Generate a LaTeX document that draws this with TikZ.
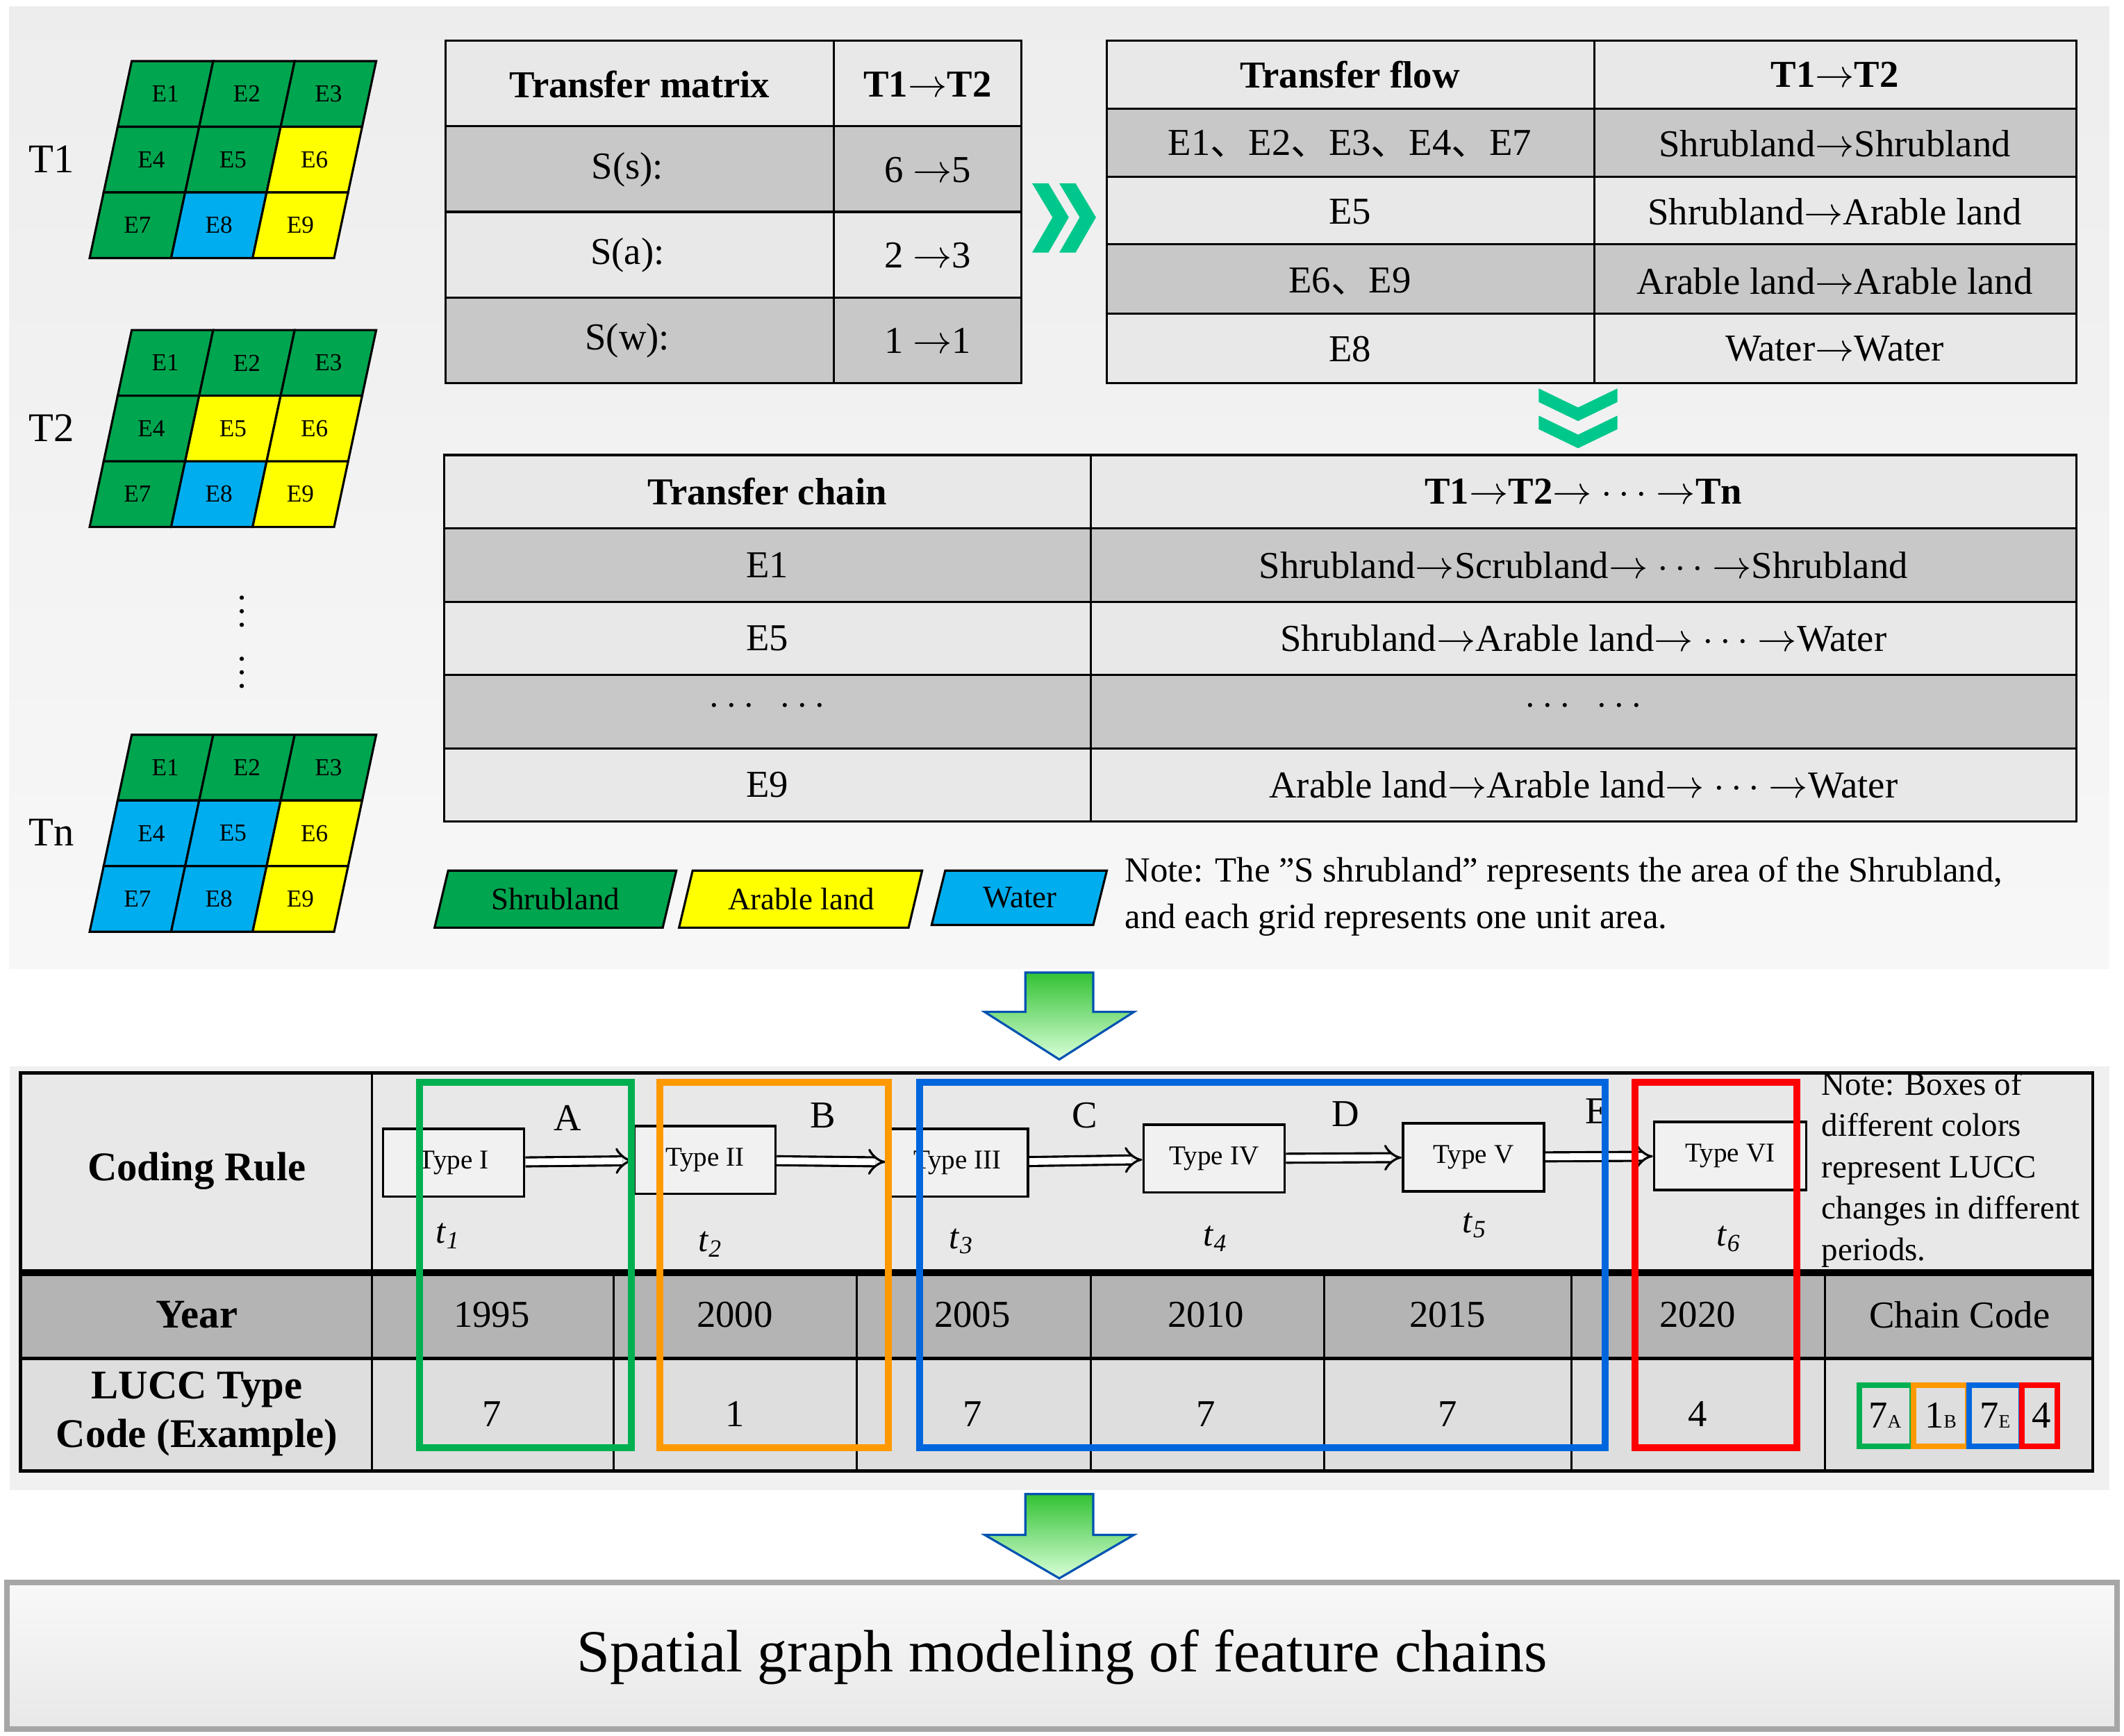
\documentclass[tikz,border=0pt]{standalone}
\usepackage{fontspec}
\setmainfont{Liberation Serif}[Ligatures=ResetAll]
\newfontfamily\cjk{Noto Sans CJK SC}
\usetikzlibrary{arrows.meta,shapes.geometric}
\newcommand{\dn}{{\cjk 、}}
\newcommand{\ra}{\ensuremath{\rightarrow}}
\definecolor{gG}{HTML}{00A54F}
\definecolor{gY}{HTML}{FFFF00}
\definecolor{gB}{HTML}{00AEEF}
\definecolor{rowD}{HTML}{C8C8C8}
\definecolor{rowL}{HTML}{E8E8E8}
\definecolor{yrD}{HTML}{B4B4B4}
\definecolor{bGreen}{HTML}{00B050}
\definecolor{bOrange}{HTML}{FF9900}
\definecolor{bBlue}{HTML}{0066DD}
\definecolor{bRed}{HTML}{FF0000}
\definecolor{chev}{HTML}{00C88C}
\newcommand{\gcell}[6]{%
 \pgfmathsetmacro{\ya}{#2+#3*48.33}\pgfmathsetmacro{\yb}{#2+(#3+1)*48.33}%
 \pgfmathsetmacro{\xa}{#1+31-#3*10.33+#4*60}\pgfmathsetmacro{\xb}{#1+31-(#3+1)*10.33+#4*60}%
 \filldraw[fill=#5,draw=black,line width=0.8pt] (\xa,\ya) -- ++(60,0) -- (\xb+60,\yb) -- (\xb,\yb) -- cycle;
 \node[font=\fontsize{9}{10}\selectfont] at ({(\xa+\xb)/2+30},{(\ya+\yb)/2}) {#6};}
\tikzset{tc/.style={font=\fontsize{14}{16}\selectfont,inner sep=0pt},
 th/.style={font=\fontsize{14}{16}\selectfont\bfseries,inner sep=0pt},
 bt/.style={font=\fontsize{14}{16}\selectfont,inner sep=0pt},
 typebox/.style={draw=black,line width=0.9pt,fill=rowL!60,minimum width=52pt,minimum height=25pt,inner sep=0pt,font=\fontsize{10}{11}\selectfont},
 dar/.style={double=white,double distance=2.5pt,line width=0.8pt,-{Implies[length=5pt]}},
 cbox/.style={line width=2.6pt},
 bigarr/.style={draw=bBlue!80!black,line width=0.8pt,top color=green!70!black!80,bottom color=green!15!white}}
\begin{document}
\begin{tikzpicture}[x=0.5pt,y=-0.5pt]
\useasboundingbox (0,0) rectangle (1564,1278);
\fill[white] (0,0) rectangle (1564,1278);
% top panel
\shade[top color=gray!14,bottom color=gray!6] (7,5) rectangle (1553,713);
% grids
\foreach \y/\cols/\lab in {45/{gG,gG,gG,gG,gG,gY,gG,gB,gY}/T1,243/{gG,gG,gG,gG,gY,gY,gG,gB,gY}/T2,541/{gG,gG,gG,gB,gB,gY,gB,gB,gY}/Tn}{
 \foreach \c [count=\i from 0] in \cols {
  \pgfmathtruncatemacro{\r}{int(\i/3)}\pgfmathtruncatemacro{\cc}{mod(\i,3)}\pgfmathtruncatemacro{\e}{\i+1}
  \gcell{66}{\y}{\r}{\cc}{\c}{E\e}}
 \node[font=\fontsize{15}{16}\selectfont] at (38,\y+72) {\lab};}
\foreach \y in {440,450,460,485,495,505} \fill (178,\y) circle (1.6);
% table 1
\fill[rowL] (328,30) rectangle (752,93);
\fill[rowD] (328,93) rectangle (752,156);
\fill[rowL] (328,156) rectangle (752,219);
\fill[rowD] (328,219) rectangle (752,282);
\draw[line width=0.8pt] (328,30) rectangle (752,282);
\foreach \y in {93,156,219} \draw[line width=0.8pt] (328,\y) -- (752,\y);
\draw[line width=0.8pt] (614,30) -- (614,282);
\node[th] (m1) at (471,62) {Transfer matrix};
\node[th] (m2) at (683,62) {T1\ra T2};
\node[tc] (m3) at (462,125) {S(s):};
\node[tc] (m4) at (683,125) {6 \ra 5};
\node[tc] (m5) at (462,188) {S(a):};
\node[tc] (m6) at (683,188) {2 \ra 3};
\node[tc] (m7) at (462,251) {S(w):};
\node[tc] (m8) at (683,251) {1 \ra 1};
% chevrons right
\fill[chev] (760,135) -- (772,135) -- (787,160) -- (772,186) -- (760,186) -- (775,160) -- cycle;
\fill[chev] (780,135) -- (792,135) -- (807,160) -- (792,186) -- (780,186) -- (795,160) -- cycle;
% table 2
\fill[rowL] (815,30) rectangle (1529,80);
\fill[rowD] (815,80) rectangle (1529,130);
\fill[rowL] (815,130) rectangle (1529,180);
\fill[rowD] (815,180) rectangle (1529,231);
\fill[rowL] (815,231) rectangle (1529,282);
\draw[line width=0.8pt] (815,30) rectangle (1529,282);
\foreach \y in {80,130,180,231} \draw[line width=0.8pt] (815,\y) -- (1529,\y);
\draw[line width=0.8pt] (1174,30) -- (1174,282);
\node[th] (f1) at (994,55) {Transfer flow};
\node[th] (f2) at (1351,55) {T1\ra T2};
\node[tc] (f3) at (994,106) {E1\dn E2\dn E3\dn E4\dn E7};
\node[tc] (f4) at (1351,106) {Shrubland\ra Shrubland};
\node[tc] (f5) at (994,156) {E5};
\node[tc] (f6) at (1351,156) {Shrubland\ra Arable land};
\node[tc] (f7) at (994,207) {E6\dn E9};
\node[tc] (f8) at (1351,207) {Arable land\ra Arable land};
\node[tc] (f9) at (994,257) {E8};
\node[tc] (f10) at (1351,257) {Water\ra Water};
% chevrons down
\fill[chev] (1133,286) -- (1133,296) -- (1162,310) -- (1191,296) -- (1191,286) -- (1162,300) -- cycle;
\fill[chev] (1133,306) -- (1133,316) -- (1162,330) -- (1191,316) -- (1191,306) -- (1162,320) -- cycle;
% table 3
\fill[rowL] (327,335) rectangle (1529,389);
\fill[rowD] (327,389) rectangle (1529,443);
\fill[rowL] (327,443) rectangle (1529,497);
\fill[rowD] (327,497) rectangle (1529,551);
\fill[rowL] (327,551) rectangle (1529,605);
\draw[line width=0.8pt] (327,335) rectangle (1529,605);
\foreach \y in {389,443,497,551} \draw[line width=0.8pt] (327,\y) -- (1529,\y);
\draw[line width=0.8pt] (803,335) -- (803,605);
\node[th] (c1) at (565,362) {Transfer chain};
\node[th] (c2) at (1166,362) {T1\ra T2\ra\ $\cdots$ \ra Tn};
\node[tc] (c3) at (565,416) {E1};
\node[tc] (c4) at (1166,416) {Shrubland\ra Scrubland\ra\ $\cdots$ \ra Shrubland};
\node[tc] (c5) at (565,470) {E5};
\node[tc] (c6) at (1166,470) {Shrubland\ra Arable land\ra\ $\cdots$ \ra Water};
\node[tc] (c7) at (565,520) {$\cdots\ \ \cdots$};
\node[tc] (c8) at (1166,520) {$\cdots\ \ \cdots$};
\node[tc] (c9) at (565,578) {E9};
\node[tc] (c10) at (1166,578) {Arable land\ra Arable land\ra\ $\cdots$ \ra Water};
% legend
\filldraw[fill=gG,line width=0.8pt] (330,641) -- (498,641) -- (488,683) -- (320,683) -- cycle;
\node[font=\fontsize{11.5}{12}\selectfont] (l1) at (409,662) {Shrubland};
\filldraw[fill=gY,line width=0.8pt] (510,641) -- (679,641) -- (669,683) -- (500,683) -- cycle;
\node[font=\fontsize{11.5}{12}\selectfont] (l2) at (590,662) {Arable land};
\filldraw[fill=gB,line width=0.8pt] (696,641) -- (815,641) -- (805,681) -- (686,681) -- cycle;
\node[font=\fontsize{11.5}{12}\selectfont] (l3) at (751,661) {Water};
\node[anchor=west,align=left,font=\fontsize{13}{17}\selectfont,inner sep=0pt] (note1) at (828,660) {Note: The "S shrubland" represents the area of the Shrubland,\\and each grid represents one unit area.};
% big arrow 1
\path[bigarr] (755,716) -- (805,716) -- (805,745) -- (835,745) -- (780,780) -- (725,745) -- (755,745) -- cycle;
% bottom panel
\fill[gray!12] (7,785) rectangle (1553,1097);
\fill[rowL] (15,790) rectangle (1541,937);
\fill[yrD] (15,937) rectangle (1541,1000);
\fill[rowL!90!gray] (15,1000) rectangle (1541,1083);
\draw[line width=1.2pt] (15,790) rectangle (1541,1083);
\draw[line width=2.5pt] (15,937) -- (1541,937);
\draw[line width=1.2pt] (15,1000) -- (1541,1000);
\draw[line width=0.8pt] (274,790) -- (274,1083);
\foreach \x in {452,631,803,975,1157,1344} \draw[line width=0.8pt] (\x,937) -- (\x,1083);
\node[font=\fontsize{15}{16}\selectfont\bfseries] (cr) at (145,862) {Coding Rule};
\node[font=\fontsize{15}{16}\selectfont\bfseries] (yr) at (145,968) {Year};
\node[font=\fontsize{15}{18}\selectfont\bfseries,align=center] (lt) at (145,1041) {LUCC Type\\Code (Example)};
\foreach \x/\yv/\cv [count=\i] in {362/1995/7,541/2000/1,716/2005/7,888/2010/7,1066/2015/7,1250/2020/4}{
 \node[bt] (y\i) at (\x,968) {\yv};
 \node[bt] (v\i) at (\x,1041) {\cv};}
\node[bt] (cc) at (1443,968) {Chain Code};
% type boxes
\node[typebox] (t1) at (334,856) {Type I};
\node[typebox] (t2) at (519,854) {Type II};
\node[typebox] (t3) at (705,856) {Type III};
\node[typebox] (t4) at (894,853) {Type IV};
\node[typebox] (t5) at (1085,852) {Type V};
\node[typebox,minimum width=56pt] (t6) at (1274,851) {Type VI};
\draw[dar] (t1) -- (t2);
\draw[dar] (t2) -- (t3);
\draw[dar] (t3) -- (t4);
\draw[dar] (t4) -- (t5);
\draw[dar] (t5) -- (t6);
\foreach \x/\y/\l in {418/823/A,606/821/B,799/821/C,991/820/D,1176/818/E}
 \node[font=\fontsize{14}{15}\selectfont] at (\x,\y) {\l};
\foreach \x/\y/\n in {330/910/1,523/916/2,708/914/3,895/912/4,1086/902/5,1273/912/6}
 \node[font=\fontsize{13}{14}\selectfont] at (\x,\y) {\textit{t}\textsubscript{\textit{\n}}};
\node[anchor=north west,align=left,font=\fontsize{12}{15.2}\selectfont,inner sep=0pt] (note2) at (1341,789) {Note: Boxes of\\different colors\\represent LUCC\\changes in different\\periods.};
% colour boxes
\draw[cbox,bGreen] (309,797) rectangle (465,1066);
\draw[cbox,bOrange] (486,797) rectangle (654,1066);
\draw[cbox,bBlue] (677,797) rectangle (1182,1066);
\draw[cbox,bRed] (1204,797) rectangle (1323,1066);
\draw[line width=2pt,bGreen] (1369,1020) rectangle (1408,1065);
\draw[line width=2pt,bOrange] (1409,1020) rectangle (1449,1065);
\draw[line width=2pt,bBlue] (1450,1020) rectangle (1488,1065);
\draw[line width=2pt,bRed] (1489,1020) rectangle (1515,1065);
\node[bt] at (1388,1042) {7\scriptsize A};
\node[bt] at (1429,1042) {1\scriptsize B};
\node[bt] at (1469,1042) {7\scriptsize E};
\node[bt] at (1503,1042) {4};
% big arrow 2
\path[bigarr] (755,1100) -- (805,1100) -- (805,1130) -- (835,1130) -- (780,1162) -- (725,1130) -- (755,1130) -- cycle;
% bottom box
\draw[line width=2pt,draw=gray!70,top color=gray!5,bottom color=gray!18] (5,1165) rectangle (1559,1273);
\node[font=\fontsize{22}{24}\selectfont] (final) at (782,1220) {Spatial graph modeling of feature chains};
\end{tikzpicture}
\end{document}
